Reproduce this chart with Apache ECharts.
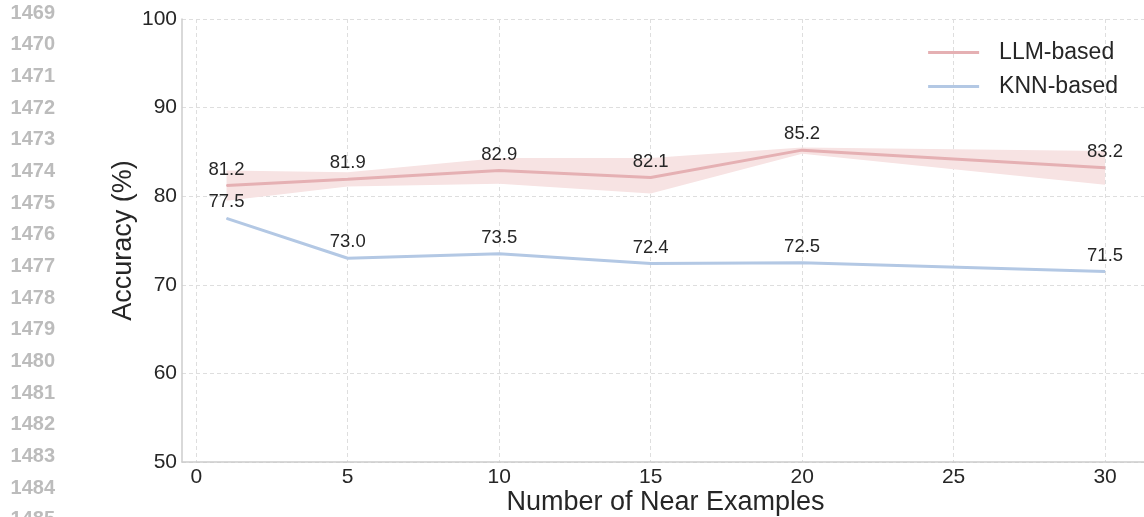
<!DOCTYPE html>
<html>
<head>
<meta charset="utf-8">
<script src="https://cdn.jsdelivr.net/npm/echarts@6/dist/echarts.min.js"></script>
<style>
  html, body { margin: 0; padding: 0; background: #ffffff; }
  #chart { width: 1144px; height: 517px; }
</style>
</head>
<body>
<div id="chart"></div>
<script>
// data
var nearExamples = [1, 5, 10, 15, 20, 30];
var llmAcc = [81.2, 81.9, 82.9, 82.1, 85.2, 83.2];
var llmUpper = [82.9, 82.7, 84.3, 84.3, 85.5, 85.1];
var llmLower = [79.5, 81.1, 81.4, 80.3, 84.8, 81.3];
var knnAcc = [77.5, 73.0, 73.5, 72.4, 72.5, 71.5];
var xTicks = [0, 5, 10, 15, 20, 25, 30];
var lineNumbers = [1469, 1470, 1471, 1472, 1473, 1474, 1475, 1476, 1477,
                   1478, 1479, 1480, 1481, 1482, 1483, 1484, 1485];

var chart = echarts.init(document.getElementById('chart'));

function pairs(xs, ys) {
  return xs.map(function (x, i) { return [x, ys[i]]; });
}

// rows for the shaded band: x, lower, upper
var bandRows = nearExamples.map(function (x, i) {
  return [x, llmLower[i], llmUpper[i]];
});

var FONT = '"Liberation Sans", Arial, sans-serif';
var textColor = '#262626';
var llmColor = '#e5b0b3';
var knnColor = '#b3c8e4';

// paper line numbers down the left margin
var numberTexts = lineNumbers.map(function (n, i) {
  return {
    type: 'text',
    x: 55,
    y: 13 + i * 31.67,
    style: {
      text: String(n),
      fill: '#bcbcbc',
      font: 'bold 20px ' + FONT,
      align: 'right',
      verticalAlign: 'middle'
    }
  };
});

// draw the band as one polygon through the axis scales
function renderBand(params, api) {
  if (params.dataIndex !== 0) return null;
  var top = [], bottom = [];
  for (var i = 0; i < bandRows.length; i++) {
    top.push(api.coord([bandRows[i][0], bandRows[i][2]]));
    bottom.unshift(api.coord([bandRows[i][0], bandRows[i][1]]));
  }
  return {
    type: 'polygon',
    shape: { points: top.concat(bottom) },
    style: { fill: '#f7e3e3' },
    silent: true
  };
}

var dataLabel = {
  show: true,
  position: 'top',
  distance: 6,
  fontSize: 18.5,
  color: textColor,
  fontFamily: FONT,
  formatter: function (p) { return p.value[1].toFixed(1); }
};

var option = {
  animation: false,
  backgroundColor: '#ffffff',
  textStyle: { fontFamily: FONT },
  graphic: numberTexts,
  grid: {
    left: 182,
    right: -5,
    top: 19,
    bottom: 55,
    containLabel: false,
    outerBoundsMode: 'none'
  },
  legend: {
    right: 21,
    top: 36,
    orient: 'vertical',
    align: 'left',
    icon: 'rect',
    itemWidth: 51,
    itemHeight: 3,
    itemGap: 11,
    textStyle: { fontSize: 23, color: textColor, fontFamily: FONT, padding: [0, 0, 0, 15] },
    data: [
      { name: 'LLM-based', itemStyle: { color: llmColor, opacity: 1 } },
      { name: 'KNN-based', itemStyle: { color: knnColor, opacity: 1 } }
    ]
  },
  xAxis: {
    type: 'value',
    min: -0.47,
    max: 31.45,
    name: 'Number of Near Examples',
    nameLocation: 'middle',
    nameGap: 27,
    nameMoveOverlap: false,
    nameTextStyle: { fontSize: 27, color: textColor, fontFamily: FONT },
    axisLine: { show: true, onZero: false, lineStyle: { color: '#cccccc', width: 1.5 } },
    axisTick: { show: false, customValues: xTicks },
    axisLabel: {
      customValues: xTicks,
      fontSize: 21,
      color: textColor,
      margin: 5,
      fontFamily: FONT
    },
    splitLine: {
      show: true,
      lineStyle: { color: '#dedede', type: [4, 3], width: 1 }
    }
  },
  yAxis: {
    type: 'value',
    min: 50,
    max: 100,
    interval: 10,
    name: 'Accuracy (%)',
    nameLocation: 'middle',
    nameGap: 45,
    nameMoveOverlap: false,
    nameTextStyle: { fontSize: 27, color: textColor, fontFamily: FONT },
    axisLine: { show: true, onZero: false, lineStyle: { color: '#cccccc', width: 1.5 } },
    axisTick: { show: false },
    axisLabel: { fontSize: 21, color: textColor, margin: 5, fontFamily: FONT, padding: [4, 0, 0, 0] },
    splitLine: {
      show: true,
      lineStyle: { color: '#dedede', type: [4, 3], width: 1 }
    }
  },
  series: [
    {
      name: 'band',
      type: 'custom',
      renderItem: renderBand,
      data: bandRows,
      encode: { x: 0, y: [1, 2] },
      silent: true,
      z: 1
    },
    {
      name: 'LLM-based',
      type: 'line',
      data: pairs(nearExamples, llmAcc),
      color: llmColor,
      symbol: 'circle',
      symbolSize: 1,
      showSymbol: true,
      itemStyle: { color: llmColor },
      lineStyle: { color: llmColor, width: 3 },
      label: dataLabel,
      z: 3
    },
    {
      name: 'KNN-based',
      type: 'line',
      data: pairs(nearExamples, knnAcc),
      color: knnColor,
      symbol: 'circle',
      symbolSize: 1,
      showSymbol: true,
      itemStyle: { color: knnColor },
      lineStyle: { color: knnColor, width: 3 },
      label: dataLabel,
      z: 3
    }
  ]
};

chart.setOption(option);
</script>
</body>
</html>
